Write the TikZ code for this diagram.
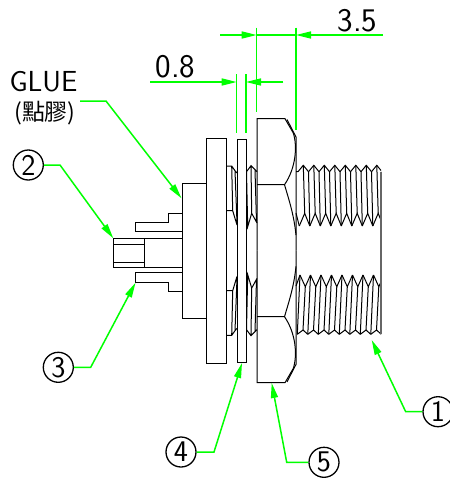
\documentclass[tikz,border=0pt]{standalone}
\usepackage{fontspec}
\newfontfamily\cjk{Noto Sans CJK TC}
\usepackage{xcolor}
\usetikzlibrary{arrows.meta}
\definecolor{leadergreen}{RGB}{0,255,0}
% upper half of nut and thread on the collar, mirrored for the lower half
\newcommand{\halfnut}{
    \draw (257,250.7) -- (257,118.7) -- (285,118.7) -- (293.3,133) .. controls (297.5,146) and (296,168) .. (284.5,184.7);
    \draw (287,119.5) -- (296,137) -- (296,250.7);
    \draw (257,184.7) -- (284.5,184.7) .. controls (289,200) and (294,215) .. (296,235);
    \draw (226,166) -- (231.7,166) -- (235,170.7) -- (237,173) (231.7,166) -- (232.7,210.7) -- (226,210.7) (232.7,210.7) -- (237,225) (235,170.7) -- (237,223);
    \draw (246.5,171.7) -- (251,165.7) -- (257,171.7) (246.5,171.7) -- (247.7,226.7) -- (251.7,213.3) -- (257,223) (251,165.7) -- (251.7,213.3) (255,170) -- (256.5,222);
}
\begin{document}
\begin{tikzpicture}
            [x=1pt,y=-1pt,line width=1pt,
             num/.style ={draw,circle,line width=1.3pt,minimum size=30pt,inner sep=0pt,font=\sffamily\fontsize{30}{30}\selectfont},
             lab/.style ={inner sep=0pt,font=\sffamily\fontsize{29}{29}\selectfont},
             dimtext/.style ={inner sep=0pt,font=\sffamily\fontsize{33}{33}\selectfont},
             leader/.style ={draw=leadergreen,line width=1.5pt,-{Triangle[length=15pt,width=7pt]}},
             ext/.style ={draw=leadergreen,line width=1.5pt}]
            \useasboundingbox (0,0) rectangle (450,480);
            % connector body
            \draw (113.3,238.3) rectangle (144.3,267.7);
            \draw (113.3,244.3) -- (144.3,244.3) (113.3,262.3) -- (144.3,262.3) (144.3,238.3) -- (182,238.3) (144.3,267.7) -- (182,267.7);
            \draw (182,213.3) -- (168.7,213.3) -- (168.7,222.3) -- (135.7,222.3) -- (135.7,231.3) -- (182,231.3);
            \draw (182,291.3) -- (168.7,291.3) -- (168.7,282.3) -- (135.7,282.3) -- (135.7,272.3) -- (182,272.3);
            \draw (182,183) rectangle (206.7,318);
            \draw (206.7,138.7) rectangle (226,363);
            \draw (237,139) rectangle (246.5,362);
            \halfnut
            \begin{scope}[shift={(0,501.4)},yscale=-1]
                \halfnut
            \end{scope}
            % outer thread
            \begin{scope}
                \clip (290,150) rectangle (381,345);
                \foreach \k in {0,...,7}{
                    \draw ({298+10.5*\k},171.7) -- ({303.3+10.5*\k},165.3) -- ({308.5+10.5*\k},171.7);
                    \draw ({299.3+10.5*\k},226) -- ({304.7+10.5*\k},213.3) -- ({309.8+10.5*\k},226);
                    \draw ({303.3+10.5*\k},165.3) -- ({304.7+10.5*\k},213.3) ({308.5+10.5*\k},171.7) -- ({309.8+10.5*\k},226);
                    \draw ({300+10.5*\k},275) -- ({305.3+10.5*\k},286.7) -- ({310.5+10.5*\k},275);
                    \draw ({297.3+10.5*\k},334.3) -- ({303+10.5*\k},330) -- ({307.8+10.5*\k},334.3);
                    \draw ({300+10.5*\k},275) -- ({297.3+10.5*\k},334.3) ({305.3+10.5*\k},286.7) -- ({303+10.5*\k},330);
                }
            \end{scope}
            \draw (296,171.7) -- (298,171.7) (296,213) -- (299.3,226) (296,286) -- (300,275);
            \draw[line width=1.5pt,gray!80!black] (381,171.7) -- (381,334.3);
            % labels
            \node[lab] (glue) at (43.5,82) {GLUE};
            \node[inner sep=0pt,font=\cjk\fontsize{23}{23}\selectfont] (gluecn) at (45,113) {(點膠)};
            \node[dimtext] (thick) at (175.5,67) {0.8};
            \node[dimtext] (nutw) at (357.5,21) {3.5};
            \node[num] (n1) at (438,411.7) {1};
            \node[num] (n2) at (28.3,165) {2};
            \node[num] (n3) at (58.3,367.3) {3};
            \node[num] (n4) at (181,452) {4};
            \node[num] (n5) at (324,462.3) {5};
            % leaders
            \coordinate (k0) at (80,101); \coordinate (k0b) at (106,101); \coordinate (t0) at (181.5,198.3);
            \coordinate (k1) at (405.7,411.7); \coordinate (t1) at (371.7,340);
            \coordinate (k2) at (60,165); \coordinate (t2) at (113.3,238.3);
            \coordinate (k3) at (90.7,367.3); \coordinate (t3) at (135.5,282.7);
            \coordinate (k4) at (214,452); \coordinate (t4) at (242,363);
            \coordinate (k5) at (286.7,462.3); \coordinate (t5) at (271.7,383);
            \draw[leader] (k0) -- (k0b) -- (t0);
            \draw[leader] (n1) -- (k1) -- (t1);
            \draw[leader] (n2) -- (k2) -- (t2);
            \draw[leader] (n3) -- (k3) -- (t3);
            \draw[leader] (n4) -- (k4) -- (t4);
            \draw[leader] (n5) -- (k5) -- (t5);
            % dimensions
            \coordinate (a) at (236.7,74.3); \coordinate (a2) at (236.7,133);
            \coordinate (b) at (246,74.3); \coordinate (b2) at (246,133);
            \coordinate (c) at (256.7,27.7); \coordinate (c2) at (256.7,111.7);
            \coordinate (d) at (296,27.7); \coordinate (d2) at (296,130);
            \draw[ext] (a) -- (a2) (b) -- (b2) (c) -- (c2) (d) -- (d2);
            \coordinate (p1) at (150,82); \coordinate (p2) at (236.7,82);
            \coordinate (p3) at (283.3,82); \coordinate (p4) at (246,82);
            \coordinate (q1) at (220,35); \coordinate (q2) at (256.7,35);
            \coordinate (q3) at (383,35); \coordinate (q4) at (296,35);
            \draw[leader] (p1) -- (p2);
            \draw[leader] (p3) -- (p4);
            \draw[leader] (q1) -- (q2);
            \draw[leader] (q3) -- (q4);
            \draw[ext] (q2) -- (q4);
        \end{tikzpicture}
\end{document}
